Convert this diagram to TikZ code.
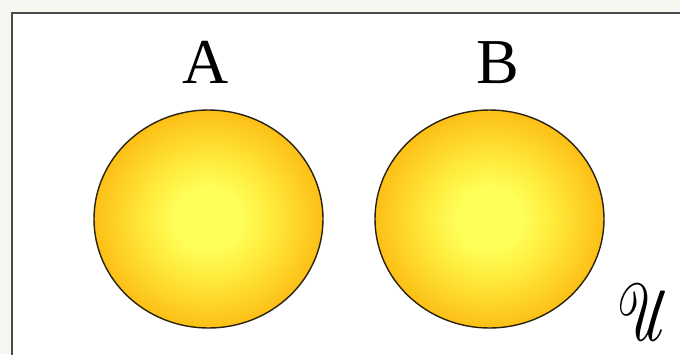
\documentclass[tikz,border=0pt]{standalone}
\usepackage{mathrsfs}
\usepackage{fontspec}
\setmainfont{Liberation Serif}
\usetikzlibrary{shapes.geometric}
\definecolor{Paper}{HTML}{F7F7F2}
\definecolor{Frame}{HTML}{4A4A48}
\definecolor{SetCore}{HTML}{FFFF5A}
\definecolor{SetMid}{HTML}{FFEA3A}
\definecolor{SetRim}{HTML}{FDBF16}
\definecolor{SetLine}{HTML}{2A2210}
\pgfdeclareradialshading{setglow}{\pgfpoint{0bp}{0bp}}{color(0bp)=(SetCore); color(7bp)=(SetCore); color(14bp)=(SetMid); color(25bp)=(SetRim); color(50bp)=(SetRim)}
\tikzset{
  setdisc/.style={ellipse,draw=SetLine,line width=1.4pt,shading=setglow,minimum width=229pt,minimum height=218pt,inner sep=0pt},
  setname/.style={font=\fontsize{64}{64}\selectfont,text=black,anchor=base},
  univ/.style={anchor=south west,inner sep=0pt,xslant=-0.22},
}
\begin{document}
\begin{tikzpicture}[x=1pt,y=-1pt]
\useasboundingbox (0,0) rectangle (680,354);
\clip (0,0) rectangle (680,354);
% -paper and frame-
\fill[Paper] (0,0) rectangle (680,354);
\draw[Frame,fill=white,line width=2pt] (12,13) rectangle (700,380);
% -sets-
\node[setdisc] (setA) at (208.5,219) {};
\node[setdisc] (setB) at (489.5,219) {};
\node[setname] (nameA) at (205.5,83) {A};
\node[setname] (nameB) at (497.5,83) {B};
% -universe-
\node[univ] (universe) at (624,341) {\resizebox{57pt}{56pt}{$\mathscr{U}$}};
\end{tikzpicture}
\end{document}
